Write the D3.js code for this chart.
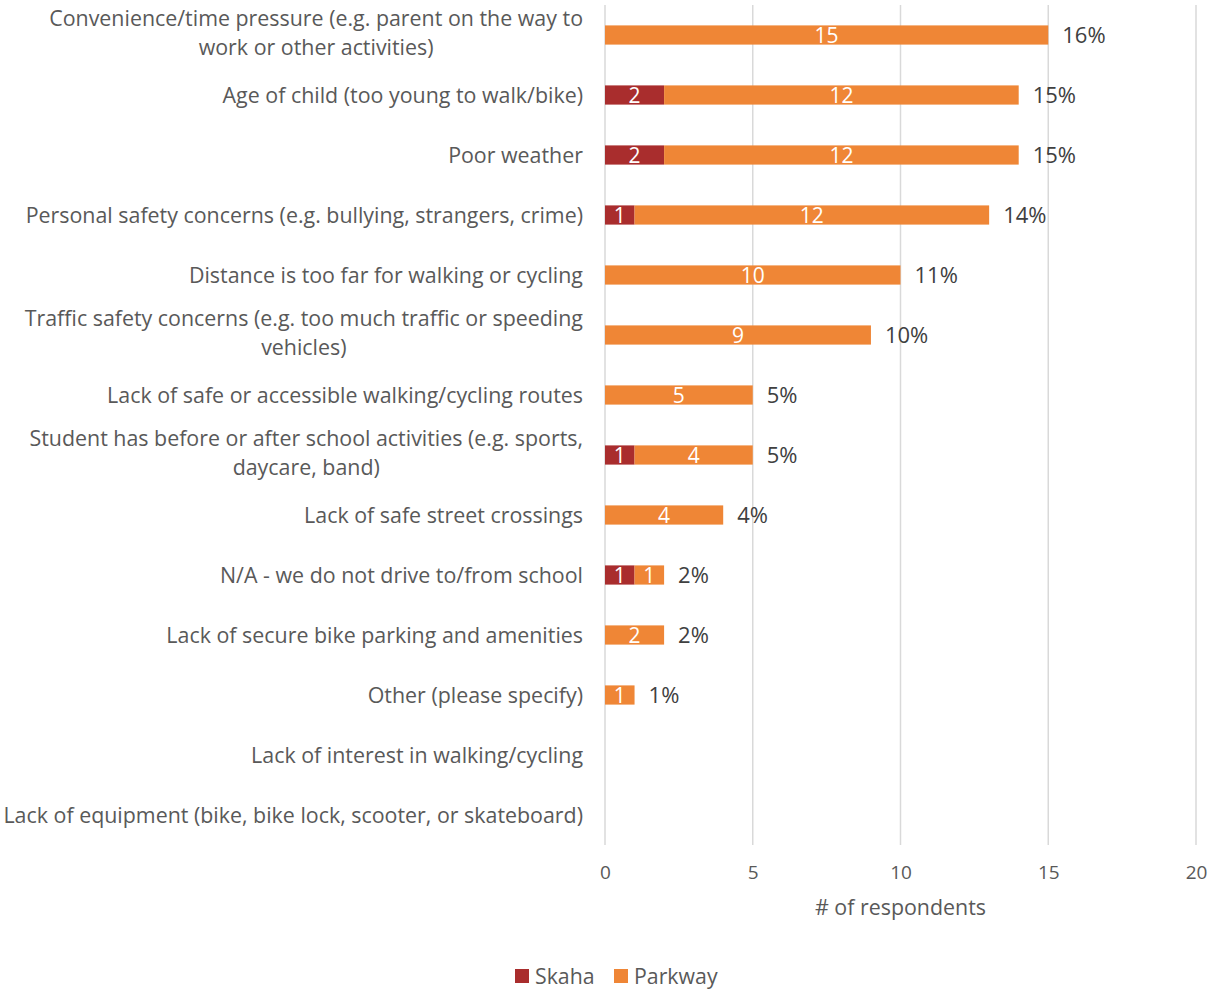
<!DOCTYPE html>
<html>
<head>
<meta charset="utf-8">
<script src="https://cdn.jsdelivr.net/npm/d3@7"></script>
<style>
  html, body { margin: 0; padding: 0; background: #fff; }
  svg { display: block; font-family: "Open Sans", "Noto Sans", sans-serif; }
</style>
</head>
<body>
<svg id="chart" width="1215" height="992"></svg>
<script>
// Reasons for driving to/from school, stacked by school
const categories = [
  "Convenience/time pressure (e.g. parent on the way to\nwork or other activities)",
  "Age of child (too young to walk/bike)",
  "Poor weather",
  "Personal safety concerns (e.g. bullying, strangers, crime)",
  "Distance is too far for walking or cycling",
  "Traffic safety concerns (e.g. too much traffic or speeding\nvehicles)",
  "Lack of safe or accessible walking/cycling routes",
  "Student has before or after school activities (e.g. sports,\ndaycare, band)",
  "Lack of safe street crossings",
  "N/A - we do not drive to/from school",
  "Lack of secure bike parking and amenities ",
  "Other (please specify)",
  "Lack of interest in walking/cycling",
  "Lack of equipment (bike, bike lock, scooter, or skateboard)"
];
const skaha   = [0, 2, 2, 1, 0, 0, 0, 1, 0, 1, 0, 0, 0, 0];
const parkway = [15, 12, 12, 12, 10, 9, 5, 4, 4, 1, 2, 1, 0, 0];
const seriesNames = ["Skaha", "Parkway"];
const seriesColors = ["#A92D2D", "#EF8636"];
const xTicks = [0, 5, 10, 15, 20];
const xTitle = "# of respondents";

const svg = d3.select("#chart");
const plot = { left: 605, right: 1196, top: 5, bottom: 845 };
const textGrey = "#595959";

const x = d3.scaleLinear().domain([0, 20]).range([plot.left, plot.right]);
const y = d3.scaleBand().domain(d3.range(categories.length))
  .range([plot.top, plot.bottom]).paddingInner(0.68).paddingOuter(0.34);

// gridlines
svg.append("g").selectAll("line").data(xTicks).join("line")
  .attr("x1", d => x(d)).attr("x2", d => x(d))
  .attr("y1", plot.top).attr("y2", plot.bottom)
  .attr("stroke", "#d9d9d9").attr("stroke-width", 1.5);

// x axis tick labels
const xAxis = d3.axisBottom(x).tickValues(xTicks).tickSize(0).tickPadding(0);
const gx = svg.append("g").attr("transform", `translate(0,${plot.bottom + 20})`).call(xAxis);
gx.select(".domain").remove();
gx.selectAll("text").attr("font-size", 19).attr("fill", textGrey)
  .attr("font-family", "Open Sans");

svg.append("text").attr("x", (plot.left + plot.right) / 2).attr("y", 915)
  .attr("text-anchor", "middle").attr("font-size", 21.4).attr("fill", textGrey)
  .text(xTitle);

// stacked data
const rows = categories.map((c, i) => ({ i, Skaha: skaha[i], Parkway: parkway[i] }));
const stack = d3.stack().keys(seriesNames)(rows);
const grand = d3.sum(skaha) + d3.sum(parkway);

const bh = y.bandwidth();
stack.forEach((layer, si) => {
  const g = svg.append("g");
  const segs = layer.filter(d => d[1] > d[0]);
  g.selectAll("rect").data(segs).join("rect")
    .attr("x", d => x(d[0])).attr("width", d => x(d[1]) - x(d[0]))
    .attr("y", d => y(d.data.i)).attr("height", bh)
    .attr("fill", seriesColors[si]);
  g.selectAll("text").data(segs).join("text")
    .attr("x", d => (x(d[0]) + x(d[1])) / 2)
    .attr("y", d => y(d.data.i) + bh / 2).attr("dy", "0.36em")
    .attr("text-anchor", "middle").attr("font-size", 21).attr("fill", "#fff")
    .text(d => d[1] - d[0]);
});

// percent-of-total labels
svg.append("g").selectAll("text").data(rows.filter(r => r.Skaha + r.Parkway > 0)).join("text")
  .attr("x", r => x(r.Skaha + r.Parkway) + 14)
  .attr("y", r => y(r.i) + bh / 2).attr("dy", "0.36em")
  .attr("font-size", 22).attr("fill", "#404040")
  .text(r => Math.round((r.Skaha + r.Parkway) / grand * 100) + "%");

// category labels, wrapped lines centred within a right-aligned block
const labelRight = 583;
const lineH = 29;
const lg = svg.append("g");
categories.forEach((c, i) => {
  const lines = c.split("\n");
  const cy = y(i) + bh / 2 - (lines.length > 1 ? 2.5 : 0);
  const t = lg.append("text").attr("font-size", 21.4).attr("fill", textGrey);
  const spans = lines.map((ln, k) => t.append("tspan")
    .attr("y", cy + (k - (lines.length - 1) / 2) * lineH).attr("dy", "0.36em").text(ln));
  const widths = spans.map(s => s.node().getComputedTextLength());
  const maxW = d3.max(widths);
  if (lines.length === 1) {
    spans[0].attr("x", labelRight).attr("text-anchor", "end");
  } else {
    spans.forEach(s => s.attr("x", labelRight - maxW / 2).attr("text-anchor", "middle"));
  }
});

// legend
const legend = svg.append("g").attr("transform", "translate(515,976)");
const offsets = [0, 99];
seriesNames.forEach((name, i) => {
  const it = legend.append("g").attr("transform", `translate(${offsets[i]},0)`);
  it.append("rect").attr("x", 0).attr("y", -7).attr("width", 14).attr("height", 14)
    .attr("fill", seriesColors[i]);
  it.append("text").attr("x", 20).attr("y", 0).attr("dy", "0.36em")
    .attr("font-size", 21.3).attr("fill", textGrey).text(name);
});
</script>
</body>
</html>
